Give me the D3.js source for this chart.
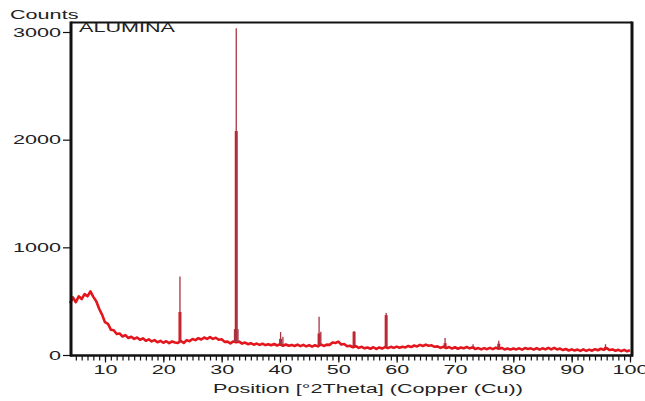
<!DOCTYPE html>
<html><head><meta charset="utf-8">
<script src="https://cdn.jsdelivr.net/npm/d3@7"></script>
<style>
html,body{margin:0;padding:0;background:#fff;}
svg{display:block;}
text{font-family:"Liberation Sans",Arial,sans-serif;fill:#222;}
</style></head>
<body><svg id="c" width="645" height="401"></svg>
<script>
// ---- data ----
const bgStart = 4, bgStep = 0.5;
const bgCounts = [
 480,535,490,545,520,565,545,590,540,500,430,375,305,290,235,230,195,200,172,185,
 158,170,150,162,142,155,132,146,126,138,118,132,114,128,110,126,116,112,130,112,
 138,128,148,138,156,144,162,150,166,150,160,142,146,122,124,108,126,118,124,106,
 116,100,110,96,106,94,104,92,100,90,102,88,100,86,98,86,94,84,96,82,
 94,80,92,78,90,80,98,84,96,94,116,112,124,98,102,82,86,72,82,66,
 76,62,70,58,72,56,70,60,74,64,76,66,78,68,76,70,84,74,88,80,
 94,84,96,86,90,76,80,66,76,64,74,60,72,58,70,62,74,62,70,56,
 64,52,64,54,66,54,68,58,66,52,60,50,60,52,62,50,64,56,62,50,
 64,50,62,52,66,52,66,52,60,46,56,42,52,42,50,38,52,38,50,40,
 54,44,58,48,64,46,52,40,48,36,48,34,44
];
const peakPos = [22.85, 32.5, 32.2, 32.8, 40.1, 40.5, 46.7, 47.0, 52.7, 58.2, 68.3, 73.1, 77.5, 82.2, 95.8];
const peakTop = [730, 3035, 240, 240, 213, 170, 355, 215, 222, 390, 157, 100, 132, 75, 100];
const peakMid = [400, 2080, 0, 0, 150, 0, 200, 0, 215, 370, 110, 80, 105, 65, 75];
const xMajorTicks = [10,20,30,40,50,60,70,80,90,100];
const yTicks = [0,1000,2000,3000];
const sampleName = "ALUMINA";
const yTitle = "Counts";
const xTitle = "Position [°2Theta] (Copper (Cu))";

// ---- drawing ----
const SX = 1.8; // horizontal text stretch seen in the picture
const svg = d3.select("#c");
const x = d3.scaleLinear().domain([4,100]).range([70,630]);
const y = d3.scaleLinear().domain([0,3000]).range([355,32]);
const L = 71, R = 632, T = 22.5, B = 355.5;

const bg = bgCounts.map((v,i)=>({t: bgStart + i*bgStep, c: v}));
const bgAt = t => { const i = Math.min(bg.length-2, Math.max(0, Math.floor((t-bgStart)/bgStep)));
  const a=bg[i], b=bg[i+1]; const f=(t-a.t)/(b.t-a.t); return a.c+(b.c-a.c)*f; };

// profile
svg.append("path").datum(bg)
  .attr("d", d3.line().x(d=>x(d.t)).y(d=>y(d.c)))
  .attr("fill","none").attr("stroke","#e3161d").attr("stroke-width",2.6).attr("stroke-linejoin","round");

const peaks = peakPos.map((p,i)=>({p, top: peakTop[i], mid: peakMid[i]}));
// thick red part of peaks
svg.append("g").selectAll("line").data(peaks.filter(d=>d.mid>0)).join("line")
  .attr("x1",d=>x(d.p)).attr("x2",d=>x(d.p))
  .attr("y1",d=>y(bgAt(d.p))).attr("y2",d=>y(d.mid))
  .attr("stroke","#dc161e").attr("stroke-width",3);
// thin dark tips
svg.append("g").selectAll("line").data(peaks).join("line")
  .attr("x1",d=>x(d.p)).attr("x2",d=>x(d.p))
  .attr("y1",d=>y(bgAt(d.p))).attr("y2",d=>y(d.top))
  .attr("stroke","#a83442").attr("stroke-width",1.3);

// x axis ticks
const gx = svg.append("g").attr("transform",`translate(0,${B})`);
gx.call(d3.axisBottom(x).tickValues(d3.range(5,101,1)).tickSize(5).tickFormat(""));
gx.call(g=>g.select(".domain").remove());
const gxm = svg.append("g").attr("transform",`translate(0,${B})`);
gxm.call(d3.axisBottom(x).tickValues(xMajorTicks).tickSize(7).tickFormat(d3.format("d")));
gxm.select(".domain").remove();
svg.selectAll("g .tick line").attr("stroke","#111").attr("stroke-width",1.2);
gxm.selectAll("text").attr("font-size",12).attr("y",10).attr("dy","0.71em")
  .attr("transform",`scale(${SX},1)`).attr("fill","#222");

// y axis
const gy = svg.append("g").attr("transform",`translate(${L},0)`);
gy.call(d3.axisLeft(y).tickValues(yTicks).tickSize(8).tickFormat(d3.format("d")));
gy.select(".domain").remove();
gy.selectAll(".tick line").attr("stroke","#111").attr("stroke-width",1.2);
gy.selectAll("text").attr("font-size",12).attr("x",-10/SX).attr("dy","0.36em")
  .attr("transform",`scale(${SX},1)`).attr("fill","#222");

// frame
svg.append("line").attr("x1",L).attr("x2",R).attr("y1",T).attr("y2",T).attr("stroke","#111").attr("stroke-width",2);
svg.append("line").attr("x1",L).attr("x2",L).attr("y1",T-1).attr("y2",B+1).attr("stroke","#111").attr("stroke-width",3);
svg.append("line").attr("x1",R).attr("x2",R).attr("y1",T-1).attr("y2",B+1).attr("stroke","#111").attr("stroke-width",3);
svg.append("line").attr("x1",L-1).attr("x2",R+1).attr("y1",B).attr("y2",B).attr("stroke","#111").attr("stroke-width",2.5);

// titles
svg.append("text").attr("transform",`translate(10,19) scale(${SX},1)`).attr("font-size",12).text(yTitle);
svg.append("text").attr("transform",`translate(79,32) scale(${SX},1)`).attr("font-size",12).text(sampleName);
svg.append("text").attr("transform",`translate(368,393) scale(${SX},1)`).attr("font-size",12)
  .attr("text-anchor","middle").text(xTitle);
</script></body></html>
